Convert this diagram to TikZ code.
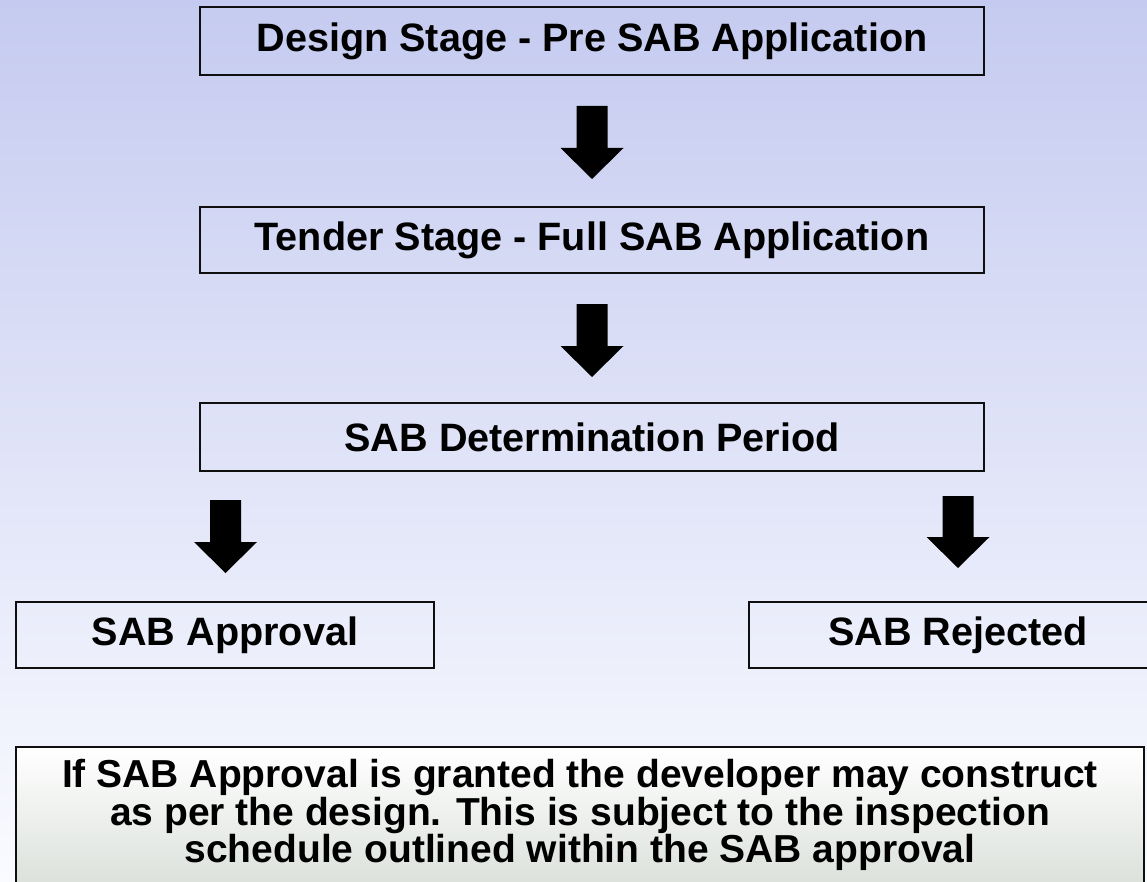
\documentclass[tikz,border=0pt]{standalone}
\usepackage{fontspec}
\setmainfont{Liberation Sans}
\usetikzlibrary{calc}
\definecolor{bgtop}{RGB}{197,203,240}
\definecolor{bgmid}{RGB}{222,229,252}
\definecolor{bgbot}{RGB}{250,251,255}
\definecolor{notebot}{RGB}{208,215,208}
\definecolor{edge}{RGB}{15,15,15}
\tikzset{
  stagebox/.style={draw=edge, line width=2.5pt, rectangle, inner sep=0pt,
    font=\bfseries\fontsize{39.6}{44}\selectfont},
  notetext/.style={align=center, inner sep=0pt,
    font=\bfseries\fontsize{39}{37.5}\selectfont},
  blockfill/.style={fill=black}
}
\newcommand{\blockarrow}[3]{%
  \fill[blockfill] (#1-15.5,#2) -- (#1+15.5,#2) -- (#1+15.5,#3-31) -- (#1+31.5,#3-31)
    -- (#1,#3) -- (#1-31.5,#3-31) -- (#1-15.5,#3-31) -- cycle;}
\begin{document}
\begin{tikzpicture}[x=1pt,y=-1pt]
\useasboundingbox (0,0) rectangle (1147,882);
\clip (0,0) rectangle (1147,882);
\shade[top color=bgtop, middle color=bgmid, bottom color=bgbot] (0,0) rectangle (1147,882);

\node[stagebox, minimum width=784pt, minimum height=68pt] (a) at (592,41) {Design Stage - Pre SAB Application};
\node[stagebox, minimum width=784pt, minimum height=66pt] (b) at (592,240) {Tender Stage - Full SAB Application};
\node[stagebox, minimum width=784pt, minimum height=68pt] (c) at (592,437) {SAB Determination Period};
\node[stagebox, minimum width=418pt, minimum height=66pt] (d) at (225,635) {SAB Approval};
\node[stagebox, minimum width=418pt, minimum height=66pt] (e) at (958,635) {SAB Rejected};

\blockarrow{592}{106}{179}
\blockarrow{592}{304}{377}
\blockarrow{225.5}{500}{573}
\blockarrow{958}{496}{568}

\shade[top color=white, bottom color=notebot] (16,747) rectangle (1144,930);
\draw[draw=edge, line width=2.5pt] (16,747) rectangle (1144,930);
\node[notetext] (f) at (580,815) {If SAB Approval is granted the developer may construct\\as per the design. This is subject to the inspection\\schedule outlined within the SAB approval};
\end{tikzpicture}
\end{document}
